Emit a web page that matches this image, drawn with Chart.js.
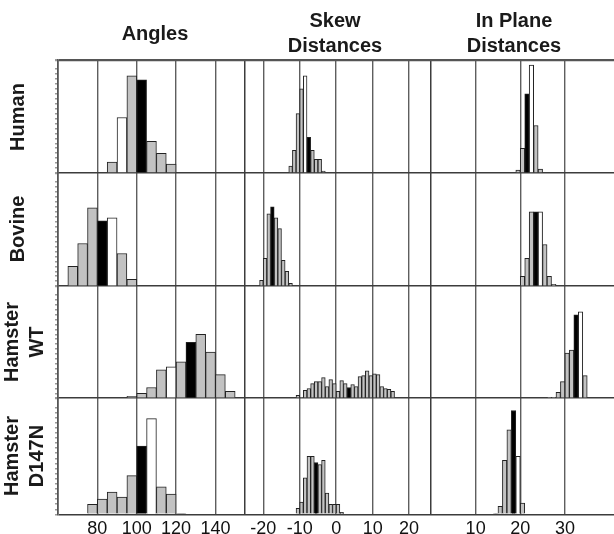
<!DOCTYPE html>
<html>
<head>
<meta charset="utf-8">
<script src="https://cdn.jsdelivr.net/npm/chart.js@4.4.0/dist/chart.umd.min.js"></script>
<style>
  html, body { margin: 0; padding: 0; background: #fff; overflow: hidden; }
  #wrap { position: relative; width: 614px; height: 534px; overflow: hidden; }
  #chart { position: absolute; left: 0; top: 0; }
  .lbl {
    position: absolute;
    font-family: 'Liberation Sans', Arial, sans-serif;
    font-size: 20px;
    font-weight: bold;
    color: #1a1a1a;
    text-align: center;
    line-height: 25px;
    white-space: nowrap;
    transform: translate(-50%, -50%);
  }
  .row { transform: translate(-50%, -50%) rotate(-90deg); }
</style>
</head>
<body>
<div id="wrap">
  <canvas id="chart" width="614" height="544"></canvas>

  <div class="lbl" style="left:155px;top:33px">Angles</div>
  <div class="lbl" style="left:335px;top:33px">Skew<br>Distances</div>
  <div class="lbl" style="left:514px;top:33px">In Plane<br>Distances</div>

  <div class="lbl row" style="left:17px;top:117px">Human</div>
  <div class="lbl row" style="left:17px;top:229px">Bovine</div>
  <div class="lbl row" style="left:24px;top:342px">Hamster<br>WT</div>
  <div class="lbl row" style="left:24px;top:456px">Hamster<br>D147N</div>
</div>

<script>
/* =============================================
   Histogram grid: 4 enzymes x 3 measures
   ============================================= */

// Angles (degrees), 5 degree bins
const angleTicks = [80, 100, 120, 140];
const angleStart = [85, 65, 95, 75];
const angleHuman = [11, 56, 98, 94, 32, 20, 9];
const angleBovine = [20, 43, 79, 66, 69, 33, 7];
const angleWT = [2, 5, 11, 29, 32, 37, 57, 65, 47, 24, 7];
const angleD147N = [10, 15, 22, 17, 38, 67, 94, 27, 20, 1];
const angleBlack = [100, 80, 125, 100];
const angleWhite = [90, 85, 115, 105];

// Skew distances, 1 unit bins
const skewTicks = [-20, -10, 0, 10, 20];
const skewStart = [-13, -21, -11, -11];
const skewHuman = [7, 23, 60, 85, 98, 36, 23, 14, 14, 2];
const skewBovine = [6, 28, 73, 80, 69, 58, 26, 15, 3];
const skewWT = [3, 1, 8, 10, 15, 17, 17, 21, 12, 19, 15, 7, 18, 15, 11, 14, 12, 22, 23, 28, 23, 25, 24, 12, 10, 9, 7];
const skewD147N = [6, 12, 36, 57, 57, 51, 49, 53, 21, 10, 10, 10, 2];
const skewBlack = [-8, -18, 3, -6];
const skewWhite = [-9, null, null, null];

// In plane distances, 1 unit bins
const planeTicks = [10, 20, 30];
const planeStart = [19, 20, 26, 14];
const planeHuman = [3, 25, 80, 109, 48, 4];
const planeBovine = [10, 28, 75, 75, 75, 42, 10, 2];
const planeWT = [1, 1, 6, 17, 46, 49, 85, 88, 23];
const planeD147N = [1, 8, 53, 83, 102, 57, 11];
const planeBlack = [21, 23, 32, 18];
const planeWhite = [22, 24, 33, 19];

const rowNames = ['Human', 'Bovine', 'Hamster WT', 'Hamster D147N'];

// Layout
const FONT = "'Liberation Sans', Arial, sans-serif";
const Y_MAX = 114;
const ROW_WEIGHTS = [113, 113, 112, 116];
const COL_WEIGHTS = [187, 186, 183];
const GRAY = '#c2c2c2';

const columns = [
    { min: 60, max: 155, width: 5, ticks: angleTicks, start: angleStart,
      rows: [angleHuman, angleBovine, angleWT, angleD147N], black: angleBlack, white: angleWhite },
    { min: -25, max: 26, width: 1, ticks: skewTicks, start: skewStart,
      rows: [skewHuman, skewBovine, skewWT, skewD147N], black: skewBlack, white: skewWhite },
    { min: 0, max: 41, width: 1, ticks: planeTicks, start: planeStart,
      rows: [planeHuman, planeBovine, planeWT, planeD147N], black: planeBlack, white: planeWhite }
];

const datasets = [];
const scales = {};

columns.forEach((col, c) => {
    col.rows.forEach((counts, r) => {
        const start = col.start[r];
        datasets.push({
            label: rowNames[r] + ' ' + c,
            data: counts.map((v, i) => ({ x: start + (i + 0.5) * col.width, y: v })),
            backgroundColor: counts.map((v, i) => {
                const bin = start + i * col.width;
                if (bin === col.black[r]) return '#000';
                if (bin === col.white[r]) return '#fff';
                return GRAY;
            }),
            borderColor: '#222',
            borderWidth: 1,
            borderSkipped: 'bottom',
            barPercentage: 1,
            categoryPercentage: 1,
            grouped: false,
            xAxisID: 'x' + c,
            yAxisID: 'y' + r
        });
    });

    scales['x' + c] = {
        type: 'linear',
        position: 'bottom',
        stack: 'cols',
        stackWeight: COL_WEIGHTS[c],
        weight: c + 1,
        min: col.min,
        max: col.max,
        offset: false,
        afterBuildTicks: axis => {
            axis.ticks = [col.min, ...col.ticks].map(v => ({ value: v }));
        },
        // stacked axes: keep the label overhang from shrinking the plot
        afterFit: axis => {
            axis.paddingLeft = 0;
            axis.paddingRight = 0;
        },
        grid: {
            offset: false,
            drawTicks: false,
            color: ctx => (ctx.tick && ctx.tick.value === col.min) ? '#3c3c3c' : '#5e5e5e',
            lineWidth: ctx => (ctx.tick && ctx.tick.value === col.min) ? 1.5 : 1.4
        },
        border: { display: false },
        ticks: {
            padding: 4,
            autoSkip: false,
            maxRotation: 0,
            color: '#111',
            font: { family: FONT, size: 18 },
            callback: v => (v === col.min ? '' : v)
        }
    };
});

rowNames.forEach((name, r) => {
    scales['y' + r] = {
        type: 'linear',
        position: 'left',
        stack: 'rows',
        stackWeight: ROW_WEIGHTS[r],
        weight: rowNames.length - r,
        min: 0,
        max: Y_MAX,
        offset: false,
        ticks: { display: false, stepSize: 5 },
        grid: {
            drawTicks: true,
            tickLength: 3,
            tickColor: '#9a9a9a',
            color: ctx => {
                const v = ctx.tick ? ctx.tick.value : -1;
                if (v === 0) return '#3c3c3c';
                if (r === 0 && v === Y_MAX) return '#555';
                return 'rgba(0,0,0,0)';
            },
            lineWidth: ctx => (ctx.tick && ctx.tick.value === Y_MAX) ? 2.2 : 1.6
        },
        border: { display: true, color: '#555', width: 1.5 }
    };
});

new Chart(document.getElementById('chart'), {
    type: 'bar',
    data: { datasets },
    options: {
        responsive: false,
        animation: false,
        layout: { padding: { left: 55, top: 60, right: 0, bottom: 0 } },
        plugins: {
            legend: { display: false },
            tooltip: { enabled: false }
        },
        scales
    }
});
</script>
</body>
</html>
